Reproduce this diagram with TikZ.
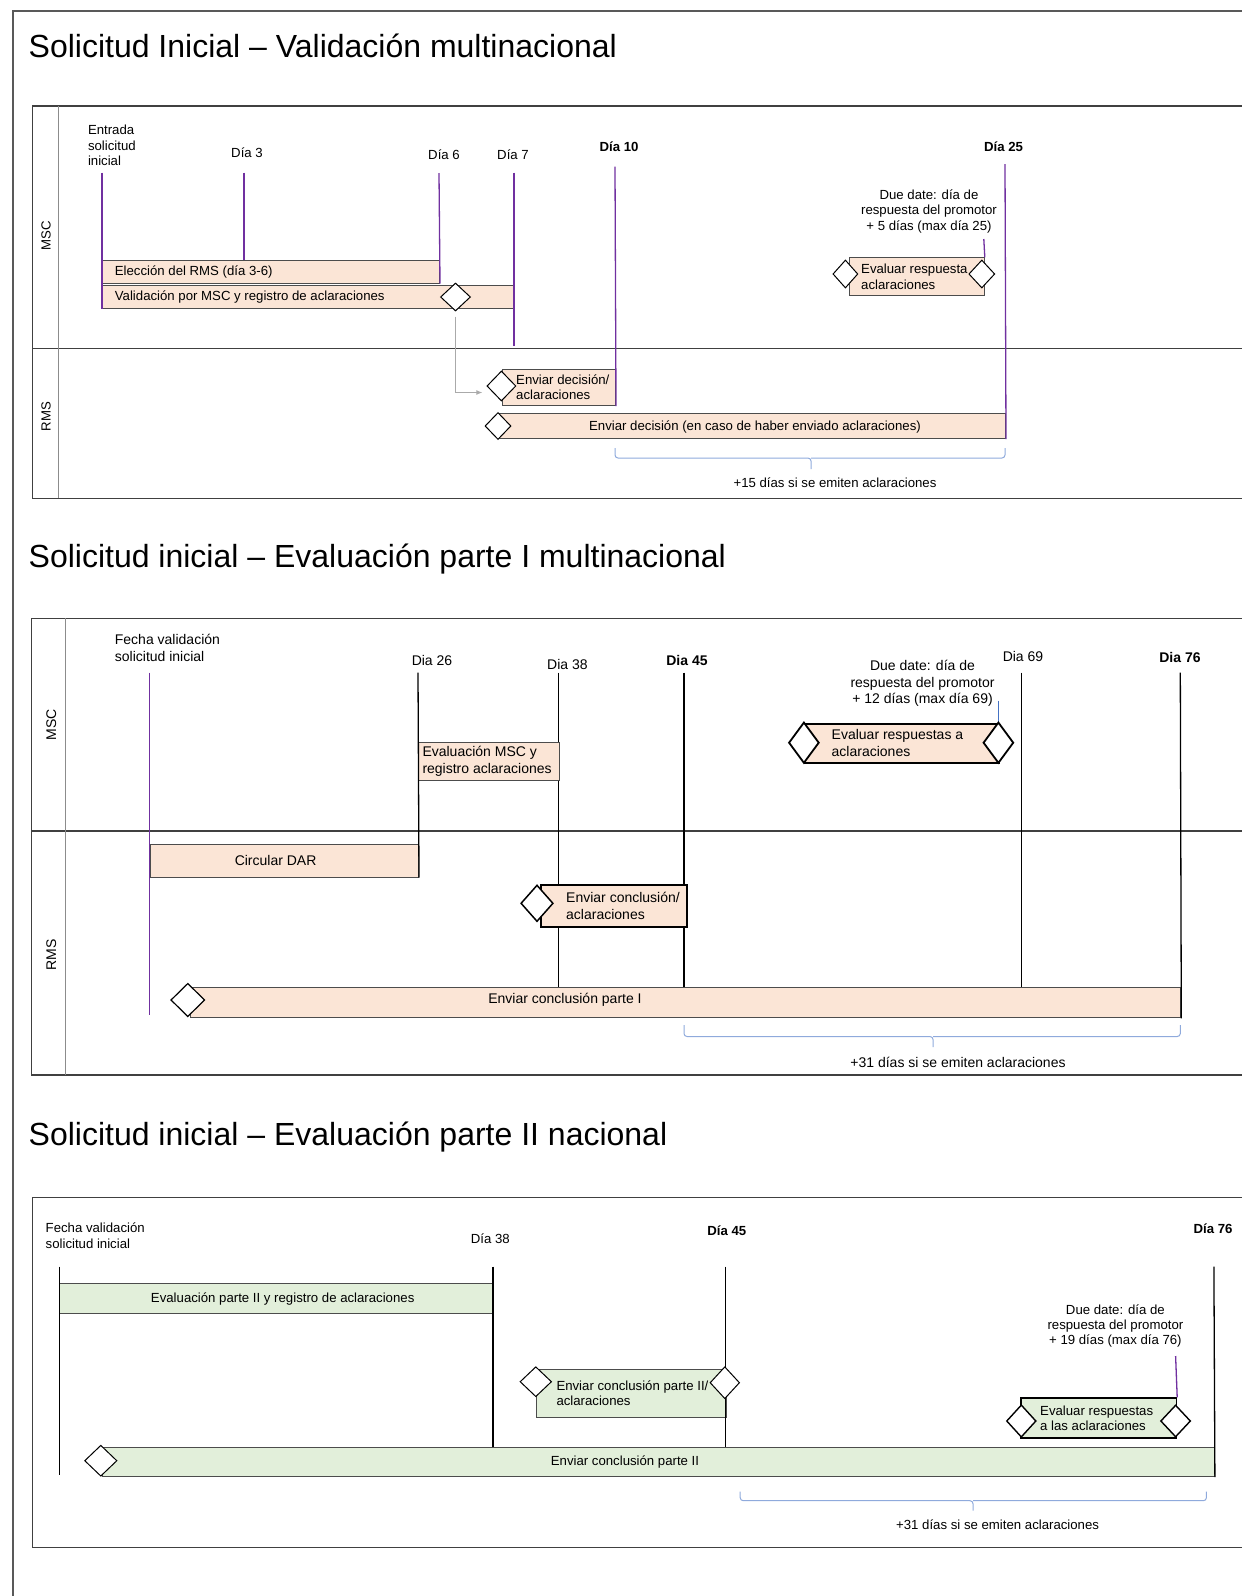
\documentclass[tikz,border=0pt]{standalone}
\usepackage{fontspec}
\setmainfont{Liberation Sans}
\usetikzlibrary{positioning,shapes.geometric,arrows.meta}

\definecolor{lila}{RGB}{112,48,160}
\definecolor{durazno}{RGB}{251,229,214}
\definecolor{verdeclaro}{RGB}{226,239,218}
\definecolor{azulllave}{RGB}{143,170,220}
\definecolor{azullinea}{RGB}{68,114,196}
\definecolor{grisflecha}{RGB}{170,170,170}

\begin{document}
\begin{tikzpicture}[x=1pt, y=-1pt,
    font=\fontsize{13.2}{15.3}\selectfont,
    titulo/.style={anchor=west, inner sep=0pt, font=\fontsize{32}{36}\selectfont},
    pool/.style={draw=black!75, line width=1.2pt},
    divisor/.style={draw=black!45, line width=1pt},
    carril/.style={rotate=90, inner sep=0pt},
    etiqueta/.style={inner sep=0pt, align=center},
    hito/.style={inner sep=0pt, execute at begin node=\bfseries},
    dia/.style={draw=lila, line width=1.3pt},
    dianegro/.style={draw=black, line width=1.3pt},
    tarea/.style={draw=black!70, line width=1pt, fill=durazno, anchor=north west, inner sep=0pt},
    tareav/.style={tarea, fill=verdeclaro},
    fuerte/.style={draw=black, line width=1.8pt},
    texto/.style={inner sep=0pt, align=left, anchor=west},
    compuerta/.style={diamond, draw=black, fill=white, line width=1pt, inner sep=0pt, minimum width=28pt, minimum height=28pt},
    llave/.style={draw=azulllave, line width=1pt, rounded corners=3pt},
    flecha/.style={draw=grisflecha, line width=1pt, -{Latex[length=6pt, width=5pt]}}
]
\useasboundingbox (0,0) rectangle (1242,1596);

% Outer frame
\draw[draw=black!65, line width=1.2pt] (13,1596) -- (13,11) -- (1242,11);

% ---------------- Validacion multinacional ----------------
\node[titulo] (tit1) at (28.5,46) {Solicitud Inicial – Validación multinacional};
\draw[pool] (1242,106) -- (32.8,106) -- (32.8,498.3) -- (1242,498.3);
\draw[pool] (32.8,348.3) -- (1242,348.3);
\draw[divisor] (58.1,106) -- (58.1,498.3);
\node[carril] (msc1) at (46,235.5) {MSC};
\node[carril] (rms1) at (46,416.7) {RMS};

% Days
\node[etiqueta, align=left, anchor=west] (entrada) at (87.8,145.5) {Entrada\\solicitud\\inicial};
\node[etiqueta] (l3) at (247,153) {Día 3};
\node[etiqueta] (l6) at (444,155) {Día 6};
\node[etiqueta] (l7) at (513,155) {Día 7};
\node[hito] (l10) at (619,146.5) {Día 10};
\node[hito] (l25) at (1003.5,147) {Día 25};
\node[etiqueta] (due1) at (929,211.5) {Due date: día de\\respuesta del promotor\\+ 5 días (max día 25)};

% Tasks
\node[tarea, minimum width=337pt, minimum height=22.7pt] (eleccion) at (102,260) {};
\node[tarea, minimum width=412pt, minimum height=23.3pt] (valid) at (102,285) {};
\node[tarea, minimum width=113pt, minimum height=36pt] (envdec) at (502,369) {};
\node[tarea, minimum width=506pt, minimum height=25pt] (envfin) at (499,413) {};
\node[tarea, minimum width=134.8pt, minimum height=37.7pt] (evalresp) at (849,257.3) {};

% Timelines
\coordinate (c0) at (102,172.7);
\coordinate (c3) at (244,172.7);
\coordinate (c6) at (439,173);
\coordinate (c7) at (514,172.7);
\coordinate (c7b) at (514,346);
\coordinate (c10) at (615,166.7);
\coordinate (c25) at (1005,164);
\coordinate (cdue1) at (983.8,239);
\draw[dia] (c0) -- (valid.south west);
\draw[dia] (c3) -- (c3 |- eleccion.north);
\draw[dia] (c6) -- (eleccion.south east);
\draw[dia] (c7) -- (c7b);
\draw[dia] (c10) -- (envdec.south east);
\draw[dia] (c25) -- (envfin.south east);
\draw[dia] (cdue1) -- (evalresp.north east);

% Gateways
\node[compuerta, minimum width=30pt] (gvalid) at (455.5,297) {};
\node[compuerta, minimum width=29pt, minimum height=30pt] (genvdec) at (501.4,386) {};
\node[compuerta, minimum width=26pt, minimum height=27pt] (genvfin) at (498,426) {};
\node[compuerta, minimum width=25pt] (gevalA) at (845.4,274) {};
\node[compuerta, minimum width=26pt] (gevalB) at (981.8,274) {};
\draw[flecha] ([yshift=-5pt]gvalid.south) |- ([xshift=-4pt, yshift=-6.5pt]genvdec.west);

% Task texts
\node[texto, right=12.7pt of eleccion.west] (teleccion) {Elección del RMS (día 3-6)};
\node[texto, right=12.7pt of valid.west] (tvalid) {Validación por MSC y registro de aclaraciones};
\node[texto, right=14pt of envdec.west] (tenvdec) {Enviar decisión/\\aclaraciones};
\node[etiqueta] (tenvfin) at (755,426.5) {Enviar decisión (en caso de haber enviado aclaraciones)};
\node[texto, right=12pt of evalresp.west] (tevalresp) {Evaluar respuesta\\aclaraciones};

% Brace
\coordinate (b1a) at (615,448);
\coordinate (b1m) at (811,458);
\coordinate (b1b) at (1005,448);
\draw[llave] (b1a) |- (b1m) -- ++(0,11);
\draw[llave] (b1m) -| (b1b);
\node[etiqueta] (tb1) at (835,482.5) {+15 días si se emiten aclaraciones};

% ---------------- Evaluacion parte I ----------------
\node[titulo] (tit2) at (28.5,559) {Solicitud inicial – Evaluación parte I multinacional};
\begin{scope}[font=\fontsize{14}{16.3}\selectfont]
\draw[pool] (1242,618.3) -- (31.6,618.3) -- (31.6,1075) -- (1242,1075);
\draw[pool] (31.6,831) -- (1242,831);
\draw[divisor] (65.2,618.3) -- (65.2,1075);
\node[carril] (msc2) at (51.4,725) {MSC};
\node[carril] (rms2) at (51.4,955) {RMS};

% Days
\node[etiqueta, align=left, anchor=west] (fecha2) at (114.7,648) {Fecha validación\\solicitud inicial};
\node[etiqueta] (l26) at (432,660.7) {Dia 26};
\node[etiqueta] (l38) at (567.4,664) {Dia 38};
\node[hito] (l45) at (687,660.7) {Dia 45};
\node[etiqueta] (l69) at (1023,656) {Dia 69};
\node[hito] (l76) at (1180,657.3) {Dia 76};
\node[etiqueta] (due2) at (922.5,683.3) {Due date: día de\\respuesta del promotor\\+ 12 días (max día 69)};

% Timelines
\coordinate (e0) at (149.5,672.7);
\coordinate (e0b) at (149.5,1015);
\coordinate (e26) at (418,672.7);
\coordinate (e38) at (558.7,672.7);
\coordinate (e45) at (684,672.7);
\coordinate (e69) at (1021.3,672.7);
\coordinate (e76) at (1180.3,672.7);
\coordinate (edue) at (998.4,700.7);
\node[tarea, minimum width=990.5pt, minimum height=30.6pt] (conc1) at (189.8,986.7) {};
\draw[dianegro] (e38) -- (e38 |- conc1.north);
\draw[dianegro] (e45) -- (e45 |- conc1.north);
\draw[dianegro] (e69) -- (e69 |- conc1.north);
\draw[dianegro] (e76) -- (conc1.south east);
\draw[draw=azullinea, line width=0.8pt] (edue) -- (edue |- 0,722.7);

% Tasks
\node[tarea, minimum width=140.7pt, minimum height=38.3pt] (evalmsc) at (418,741.7) {};
\node[tarea, minimum width=268.5pt, minimum height=32.4pt] (circ) at (149.5,844.3) {};
\node[tarea, fuerte, minimum width=146.7pt, minimum height=42pt] (envconc) at (539.7,884) {};
\node[tarea, fuerte, minimum width=194.5pt, minimum height=39pt] (evalr2) at (803.9,722.7) {};
\draw[dia] (e0) -- (e0b);
\draw[dianegro] (e26) -- (circ.south east);

% Gateways
\node[compuerta, line width=1.5pt, minimum width=32.4pt, minimum height=36.6pt] (genvconc) at (537,903.3) {};
\node[compuerta, line width=1.2pt, minimum width=34pt, minimum height=33.4pt] (gconc1) at (187.8,1000) {};
\node[compuerta, line width=1.8pt, minimum width=30.4pt, minimum height=41pt] (gevr2A) at (803.9,742.7) {};
\node[compuerta, line width=1.8pt, minimum width=30.4pt, minimum height=41pt] (gevr2B) at (998.4,742.7) {};

% Task texts
\node[texto, right=4.3pt of evalmsc.west] (tevalmsc) {Evaluación MSC y\\registro aclaraciones};
\node[etiqueta] (tcirc) at (275.6,860) {Circular DAR};
\node[texto, right=26.3pt of envconc.west] (tenvconc) {Enviar conclusión/\\aclaraciones};
\node[etiqueta] (tconc1) at (565,999.7) {Enviar conclusión parte I};
\node[texto, right=27.6pt of evalr2.west] (tevalr2) {Evaluar respuestas a\\aclaraciones};

% Brace
\coordinate (b2a) at (684,1025);
\coordinate (b2m) at (933,1036.5);
\coordinate (b2b) at (1180.3,1025);
\draw[llave] (b2a) |- (b2m) -- ++(0,10.5);
\draw[llave] (b2m) -| (b2b);
\node[etiqueta] (tb2) at (958,1062.3) {+31 días si se emiten aclaraciones};
\end{scope}

% ---------------- Evaluacion parte II ----------------
\node[titulo] (tit3) at (28.5,1137) {Solicitud inicial – Evaluación parte II nacional};
\draw[pool] (1242,1197.3) -- (32.4,1197.3) -- (32.4,1547.3) -- (1242,1547.3);

% Days
\node[etiqueta, align=left, anchor=west] (fecha3) at (45.5,1235.8) {Fecha validación\\solicitud inicial};
\node[etiqueta] (m38) at (490.3,1239) {Día 38};
\node[hito] (m45) at (726.8,1230.7) {Día 45};
\node[hito] (m76) at (1213,1229) {Día 76};
\node[etiqueta] (due3) at (1115.4,1326) {Due date: día de\\respuesta del promotor\\+ 19 días (max día 76)};

% Tasks
\node[tareav, minimum width=433.7pt, minimum height=30pt] (evalII) at (59.3,1283.3) {};
\node[tareav, line width=1.2pt, minimum width=189.8pt, minimum height=47.7pt] (envII) at (535.8,1369) {};
\node[tareav, minimum width=1111.9pt, minimum height=29.3pt] (concII) at (102,1446.7) {};
\node[tareav, draw=black, line width=1.6pt, minimum width=155.6pt, minimum height=40pt] (evalr3) at (1020,1397.3) {};

% Timelines
\coordinate (f0) at (59.3,1266.7);
\coordinate (f0b) at (59.3,1475);
\coordinate (f38) at (493,1266.7);
\coordinate (f45) at (725.6,1266.7);
\coordinate (f76) at (1213.9,1266.7);
\coordinate (fdue) at (1175.6,1356);
\draw[dianegro] (f0) -- (f0b);
\draw[dianegro] (f38) -- (f38 |- concII.north);
\draw[dianegro] (f45) -- (f45 |- concII.north);
\draw[dianegro] (f76) -- (concII.south east);
\draw[dia] (fdue) -- (evalr3.north east);

% Gateways
\node[compuerta, minimum width=31.6pt, minimum height=30pt] (genvIIa) at (535.8,1381.7) {};
\node[compuerta, minimum width=29.6pt, minimum height=32pt] (genvIIb) at (724.8,1382.7) {};
\node[compuerta, minimum width=32.4pt, minimum height=31pt] (gconcII) at (100.8,1460.7) {};
\node[compuerta, line width=1.4pt, minimum width=29.6pt, minimum height=32.4pt] (gevr3A) at (1021.3,1421) {};
\node[compuerta, line width=1.4pt, minimum width=30pt, minimum height=32pt] (gevr3B) at (1175.6,1421) {};

% Task texts
\node[etiqueta] (tevalII) at (282.7,1299) {Evaluación parte II y registro de aclaraciones};
\node[texto, right=20.5pt of envII.west] (tenvII) {Enviar conclusión parte II/\\aclaraciones};
\node[etiqueta] (tconcII) at (625,1462) {Enviar conclusión parte II};
\node[texto, right=20pt of evalr3.west] (tevalr3) {Evaluar respuestas\\a las aclaraciones};

% Brace
\coordinate (b3a) at (740.2,1491.7);
\coordinate (b3m) at (973,1500.7);
\coordinate (b3b) at (1206.4,1491.7);
\draw[llave] (b3a) |- (b3m) -- ++(0,10);
\draw[llave] (b3m) -| (b3b);
\node[etiqueta] (tb3) at (997.6,1525) {+31 días si se emiten aclaraciones};

\end{tikzpicture}
\end{document}
